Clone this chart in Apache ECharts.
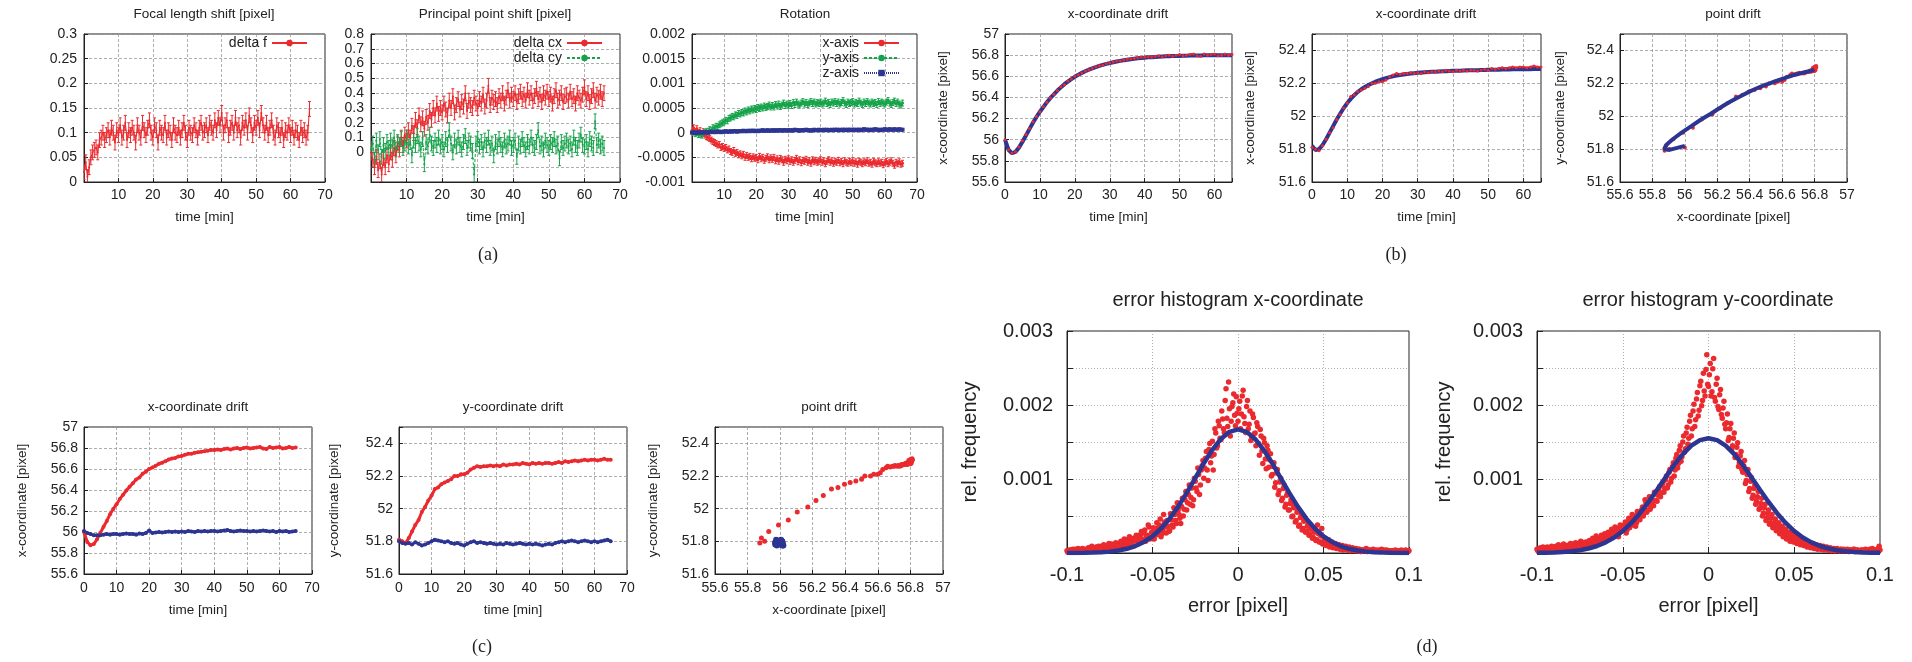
<!DOCTYPE html>
<html>
<head>
<meta charset="utf-8">
<title>camera drift</title>
<script src="https://cdn.jsdelivr.net/npm/echarts@6/dist/echarts.min.js"></script>
<style>html,body{margin:0;padding:0;background:#fff;}</style>
</head>
<body>
<div id="main" style="width:1912px;height:662px;"></div>
<script>
// ---------- (a) calibration parameters, one sample every 0.5 min ----------
var tStepA = 0.5;
var deltaF = [
  0.02,0.04,0.01,0.03,0.05,0.06,0.065,0.07,0.06,0.085,
  0.09,0.1,0.085,0.095,0.105,0.09,0.11,0.1,0.08,0.105,
  0.095,0.115,0.09,0.1,0.12,0.085,0.105,0.095,0.11,0.1,
  0.08,0.115,0.1,0.09,0.12,0.105,0.095,0.11,0.125,0.1,
  0.09,0.115,0.105,0.08,0.11,0.1,0.095,0.12,0.09,0.105,
  0.1,0.085,0.115,0.1,0.095,0.11,0.09,0.105,0.12,0.1,
  0.085,0.11,0.1,0.095,0.115,0.105,0.09,0.11,0.12,0.1,
  0.105,0.115,0.095,0.12,0.11,0.1,0.125,0.105,0.13,0.115,
  0.14,0.1,0.115,0.125,0.095,0.11,0.12,0.1,0.13,0.105,
  0.115,0.09,0.12,0.11,0.125,0.1,0.135,0.115,0.095,0.12,
  0.11,0.13,0.105,0.14,0.115,0.1,0.12,0.095,0.11,0.125,
  0.1,0.09,0.115,0.105,0.095,0.11,0.085,0.105,0.1,0.115,
  0.095,0.11,0.09,0.105,0.1,0.085,0.11,0.095,0.105,0.09,
  0.1,0.148];
var deltaCx = [
  0,-0.05,-0.1,-0.03,-0.12,-0.06,-0.15,-0.04,-0.1,-0.02,
  -0.08,0,-0.05,0.03,-0.02,0.06,0.02,0.1,0.05,0.12,
  0.08,0.15,0.1,0.18,0.13,0.22,0.17,0.25,0.19,0.23,
  0.16,0.24,0.2,0.28,0.22,0.3,0.25,0.33,0.26,0.3,
  0.27,0.33,0.29,0.25,0.35,0.3,0.38,0.27,0.32,0.36,
  0.29,0.34,0.31,0.4,0.28,0.35,0.32,0.3,0.37,0.33,
  0.3,0.36,0.33,0.39,0.31,0.35,0.45,0.32,0.37,0.34,
  0.36,0.32,0.38,0.35,0.4,0.33,0.37,0.42,0.35,0.39,
  0.36,0.4,0.34,0.38,0.41,0.36,0.39,0.35,0.42,0.37,
  0.4,0.35,0.38,0.43,0.36,0.39,0.34,0.4,0.37,0.41,
  0.36,0.39,0.33,0.38,0.42,0.35,0.37,0.4,0.34,0.38,
  0.39,0.35,0.41,0.36,0.38,0.33,0.4,0.37,0.35,0.39,
  0.44,0.36,0.4,0.34,0.38,0.42,0.35,0.39,0.37,0.41,
  0.36,0.4];
var deltaCy = [
  0.02,0.06,-0.05,0.08,0,0.09,-0.03,0.05,0.01,0.07,
  0.03,0.08,0.04,0.1,0.02,0.07,0.05,0.09,0.03,0.06,
  0.1,0.04,0.07,-0.02,0.08,0.05,0.11,0.06,0.02,0.09,
  -0.08,0.07,0.04,0.12,0.06,0.03,0.08,0.05,0.1,0.04,
  0.07,0.02,0.09,0.05,0.15,0.06,0,0.08,0.04,0.1,
  0.05,0.02,0.07,0.11,0.03,0.08,0.06,0.01,-0.15,0.06,
  0.09,0.04,0.07,0.02,0.08,0.05,0.1,0.03,0.06,-0.02,
  0.07,0.04,0.09,0.05,0.02,0.08,0.04,0.06,0.1,0.03,
  0.05,0.08,-0.03,0.06,0.04,0.09,0.05,0.02,0.07,0.04,
  0.1,0.05,0.03,0.07,0.15,0.04,0.06,0.02,0.08,0.05,
  0.03,0.07,0.05,0.09,0.04,0.06,-0.04,0.07,0.03,0.06,
  0.08,0.04,0.06,0.02,0.1,0.05,0.03,0.08,0.12,0.05,
  0.04,0.07,0.02,0.09,0.06,0.03,0.21,0.05,0.08,0.04,
  0.06,0.03];
var rotX = [
  0.00005,0.0001,0.00002,0.00008,0,0.00004,-0.00003,0.00002,-0.00005,-0.00008,
  -0.0001,-0.00012,-0.00015,-0.00018,-0.0002,-0.00022,-0.00025,-0.00024,-0.0003,-0.00028,
  -0.00032,-0.0003,-0.00035,-0.00033,-0.00038,-0.0004,-0.00036,-0.00042,-0.0004,-0.00045,
  -0.00043,-0.00047,-0.00044,-0.0005,-0.00046,-0.0005,-0.00048,-0.00053,-0.00049,-0.00052,
  -0.0005,-0.00055,-0.00048,-0.00053,-0.0005,-0.00056,-0.00052,-0.00049,-0.00055,-0.00051,
  -0.00054,-0.0005,-0.00057,-0.00053,-0.00058,-0.00052,-0.00055,-0.0006,-0.00054,-0.00057,
  -0.00053,-0.00058,-0.00055,-0.0006,-0.00056,-0.00052,-0.00059,-0.00055,-0.00061,-0.00056,
  -0.00058,-0.00054,-0.0006,-0.00057,-0.00062,-0.00055,-0.00059,-0.00056,-0.0006,-0.00058,
  -0.00055,-0.0006,-0.00057,-0.00063,-0.00058,-0.00055,-0.0006,-0.00057,-0.00062,-0.00058,
  -0.0006,-0.00056,-0.00061,-0.00058,-0.00063,-0.00057,-0.0006,-0.00062,-0.00058,-0.00061,
  -0.00057,-0.00062,-0.00059,-0.00064,-0.00058,-0.0006,-0.00063,-0.00059,-0.00061,-0.00057,
  -0.00062,-0.0006,-0.00064,-0.00058,-0.00061,-0.00063,-0.00059,-0.00062,-0.0006,-0.00065,
  -0.00061,-0.00058,-0.00063,-0.0006,-0.00057,-0.00062,-0.00066,-0.0006,-0.00063,-0.00059,
  -0.00064,-0.00062];
var rotY = [
  0,0.00002,-0.00002,0,-0.00004,-0.00003,-0.00005,-0.00002,0,0.00002,
  0.00003,0.00006,0.00005,0.0001,0.00009,0.00013,0.00012,0.00016,0.00018,0.0002,
  0.00022,0.00025,0.00024,0.00029,0.0003,0.00033,0.00032,0.00036,0.00035,0.00039,
  0.00038,0.00041,0.0004,0.00044,0.00042,0.00046,0.00044,0.00048,0.00046,0.00049,
  0.00047,0.00051,0.00049,0.00052,0.0005,0.00054,0.00051,0.00053,0.00056,0.00052,
  0.00055,0.00052,0.00057,0.00054,0.00058,0.00053,0.00056,0.0006,0.00055,0.00058,
  0.00056,0.00059,0.00055,0.00061,0.00057,0.00062,0.00058,0.00056,0.0006,0.00063,
  0.00058,0.00061,0.00057,0.0006,0.00063,0.00059,0.00062,0.00058,0.00061,0.00059,
  0.00062,0.00058,0.0006,0.00064,0.00059,0.00061,0.00057,0.00062,0.0006,0.00063,
  0.00059,0.00062,0.00058,0.00061,0.00065,0.0006,0.00057,0.00062,0.00059,0.00061,
  0.00063,0.00058,0.00061,0.00059,0.00064,0.0006,0.00057,0.00062,0.00059,0.00063,
  0.0006,0.00058,0.00062,0.00059,0.00061,0.00057,0.00063,0.00059,0.00062,0.0006,
  0.00058,0.00062,0.00065,0.0006,0.00057,0.00061,0.00064,0.00059,0.00062,0.00058,
  0.00056,0.0006];
var rotZ = [
  0,0.00001,-0.00001,0,0.00001,0,0.00001,0,0.00001,0.00001,
  0,0.00001,0.00002,0.00001,0.00002,0.00001,0.00002,0.00002,0.00001,0.00002,
  0.00002,0.00003,0.00002,0.00002,0.00003,0.00002,0.00003,0.00003,0.00002,0.00003,
  0.00003,0.00003,0.00004,0.00003,0.00003,0.00004,0.00003,0.00004,0.00004,0.00003,
  0.00004,0.00003,0.00004,0.00004,0.00005,0.00004,0.00004,0.00005,0.00004,0.00004,
  0.00005,0.00004,0.00005,0.00004,0.00005,0.00005,0.00004,0.00005,0.00005,0.00004,
  0.00005,0.00005,0.00004,0.00005,0.00006,0.00005,0.00005,0.00004,0.00005,0.00005,
  0.00005,0.00006,0.00005,0.00005,0.00004,0.00005,0.00006,0.00005,0.00005,0.00006,
  0.00005,0.00005,0.00006,0.00005,0.00006,0.00005,0.00005,0.00006,0.00005,0.00006,
  0.00006,0.00005,0.00006,0.00005,0.00006,0.00006,0.00005,0.00006,0.00006,0.00005,
  0.00006,0.00006,0.00005,0.00006,0.00006,0.00005,0.00006,0.00007,0.00006,0.00006,
  0.00006,0.00005,0.00006,0.00006,0.00007,0.00006,0.00006,0.00005,0.00006,0.00006,
  0.00007,0.00006,0.00006,0.00007,0.00006,0.00006,0.00007,0.00006,0.00006,0.00007,
  0.00006,0.00006];
// error bar half widths
var errF = 0.015, errC = 0.05, errRot = 0.00006, errZ = 0.00002;

// ---------- (b)/(c) point position drift, one sample per minute ----------
var tStepD = 1;
var xMeas = [
  56.0,55.905,55.875,55.885,55.93,55.99,56.05,56.105,56.17,56.22,
  56.265,56.315,56.355,56.395,56.43,56.465,56.5,56.52,56.555,56.575,
  56.6,56.615,56.63,56.65,56.66,56.675,56.69,56.7,56.705,56.72,
  56.725,56.735,56.745,56.745,56.755,56.76,56.765,56.77,56.775,56.78,
  56.78,56.785,56.78,56.79,56.795,56.785,56.795,56.8,56.79,56.8,
  56.805,56.795,56.8,56.805,56.81,56.795,56.79,56.81,56.8,56.805,
  56.81,56.795,56.8,56.81,56.8,56.805];
var xFit = [
  56.0,55.905,55.872,55.885,55.925,55.98,56.04,56.1,56.16,56.215,
  56.265,56.31,56.355,56.395,56.43,56.465,56.495,56.525,56.55,56.573,
  56.595,56.615,56.632,56.648,56.662,56.675,56.687,56.698,56.708,56.717,
  56.725,56.733,56.74,56.746,56.752,56.757,56.762,56.766,56.77,56.773,
  56.776,56.779,56.781,56.783,56.785,56.787,56.789,56.79,56.791,56.792,
  56.793,56.794,56.795,56.796,56.796,56.797,56.797,56.798,56.798,56.798,
  56.799,56.799,56.799,56.8,56.8,56.8];
var yMeas = [
  51.81,51.8,51.79,51.82,51.86,51.9,51.93,51.98,52.01,52.05,
  52.08,52.12,52.13,52.15,52.16,52.17,52.18,52.2,52.2,52.21,
  52.21,52.22,52.24,52.25,52.26,52.255,52.26,52.26,52.265,52.26,
  52.265,52.26,52.27,52.265,52.27,52.27,52.275,52.27,52.28,52.275,
  52.27,52.28,52.275,52.28,52.275,52.28,52.28,52.275,52.28,52.285,
  52.28,52.29,52.285,52.29,52.295,52.29,52.295,52.3,52.295,52.3,
  52.3,52.295,52.3,52.305,52.3,52.3];
var yFit = [
  51.82,51.795,51.8,51.825,51.86,51.9,51.94,51.98,52.015,52.05,
  52.08,52.105,52.128,52.148,52.164,52.178,52.19,52.2,52.21,52.218,
  52.225,52.232,52.238,52.243,52.247,52.251,52.254,52.257,52.26,52.262,
  52.264,52.266,52.268,52.269,52.27,52.271,52.272,52.273,52.274,52.275,
  52.276,52.277,52.277,52.278,52.279,52.279,52.28,52.28,52.281,52.281,
  52.282,52.282,52.283,52.283,52.284,52.284,52.284,52.285,52.285,52.285,
  52.286,52.286,52.286,52.287,52.287,52.287];
var xRef = [
  56.01,55.99,55.98,55.97,55.97,55.97,55.975,55.98,55.975,55.98,
  55.98,55.975,55.98,55.985,55.98,55.98,55.975,55.985,55.98,55.99,
  56.015,55.99,55.995,56.0,55.995,56.0,56.005,56.0,56.005,56.0,
  56.005,56.0,56.01,56.005,56.0,56.01,56.005,56.01,56.005,56.01,
  56.01,56.005,56.01,56.015,56.02,56.01,56.005,56.01,56.015,56.01,
  56.01,56.005,56.01,56.005,56.01,56.015,56.01,56.005,56.01,56.0,
  56.01,56.005,56.01,56.0,56.005,56.01];
var yRef = [
  51.8,51.79,51.785,51.79,51.78,51.795,51.785,51.775,51.78,51.79,
  51.8,51.81,51.805,51.8,51.795,51.8,51.79,51.785,51.79,51.78,
  51.775,51.785,51.795,51.8,51.79,51.795,51.79,51.785,51.79,51.785,
  51.78,51.785,51.78,51.79,51.785,51.78,51.785,51.79,51.785,51.78,
  51.785,51.78,51.785,51.78,51.775,51.78,51.785,51.78,51.79,51.795,
  51.8,51.795,51.8,51.805,51.8,51.795,51.8,51.805,51.8,51.795,
  51.8,51.795,51.8,51.805,51.81,51.8];

// ---------- (d) error histograms, bins every 0.001 px ----------
var histStart = -0.1, histStart2 = -0.0995, histStep = 0.001, fitStep = 0.005;
var histX = [
  0.00003,0.00002,0.00004,0.00001,0.00003,0.00005,0.00002,0.00004,0.00003,0.00006,
  0.00004,0.00002,0.00005,0.00007,0.00003,0.00006,0.00004,0.00008,0.00005,0.00007,
  0.00009,0.00005,0.00008,0.00006,0.0001,0.00007,0.00012,0.00008,0.00011,0.00006,
  0.00013,0.0001,0.00015,0.00009,0.00014,0.00018,0.00011,0.00016,0.00013,0.0002,
  0.00017,0.00022,0.00014,0.00025,0.00019,0.00027,0.00016,0.00024,0.00035,0.00021,
  0.00028,0.00019,0.00033,0.00025,0.00038,0.00022,0.0003,0.00042,0.00027,0.00036,
  0.0003,0.00045,0.00035,0.00052,0.0004,0.00058,0.00047,0.00063,0.0005,0.00072,
  0.00058,0.00079,0.00066,0.00088,0.00072,0.00097,0.00083,0.00106,0.00092,0.00118,
  0.00101,0.00128,0.00112,0.0014,0.00122,0.00151,0.00133,0.00162,0.00145,0.00172,
  0.00153,0.00181,0.00163,0.00222,0.00171,0.00195,0.00178,0.00203,0.00186,0.00211,
  0.00178,0.00205,0.00188,0.0022,0.00175,0.00198,0.00168,0.00192,0.00157,0.00183,
  0.00162,0.00176,0.00148,0.00167,0.00138,0.00155,0.00127,0.00145,0.00116,0.00134,
  0.00106,0.00122,0.00095,0.00113,0.00084,0.00101,0.00074,0.00092,0.00066,0.00081,
  0.00058,0.00072,0.0005,0.00066,0.00044,0.00058,0.00038,0.00052,0.00033,0.00045,
  0.00029,0.0004,0.00025,0.00034,0.00021,0.0003,0.00018,0.00026,0.00015,0.00033,
  0.00013,0.0002,0.00011,0.00018,0.00009,0.00015,0.00008,0.00013,0.00007,0.00011,
  0.00006,0.0001,0.00005,0.00009,0.00004,0.00008,0.00004,0.00007,0.00003,0.00006,
  0.00003,0.00005,0.00002,0.00004,0.00003,0.00006,0.00002,0.00004,0.00003,0.00005,
  0.00002,0.00004,0.00003,0.00002,0.00005,0.00003,0.00002,0.00004,0.00003,0.00002,
  0.00003,0.00002,0.00004,0.00002,0.00003,0.00001,0.00003,0.00002,0.00004,0.00003,
  0.00003];
// the same histogram, bins shifted by half a step
var histX2 = [
  0.00001,0.00004,0.00002,0.00005,0.00003,0.00002,0.00006,0.00003,0.00004,0.00002,
  0.00005,0.00003,0.00007,0.00004,0.00009,0.00005,0.00003,0.00006,0.00009,0.00004,
  0.00006,0.00011,0.00004,0.00009,0.00013,0.00006,0.0001,0.00005,0.00014,0.00009,
  0.00008,0.00016,0.00012,0.00019,0.0001,0.00015,0.00022,0.00014,0.00009,0.00018,
  0.00024,0.00012,0.0002,0.00029,0.00016,0.00031,0.00022,0.00038,0.00019,0.00028,
  0.00034,0.00024,0.00041,0.00031,0.00046,0.00026,0.00052,0.00035,0.00044,0.00029,
  0.00053,0.00038,0.00061,0.00044,0.00068,0.00052,0.0004,0.00074,0.00059,0.00083,
  0.00068,0.00092,0.00075,0.00064,0.00101,0.00088,0.00115,0.00079,0.00112,0.00125,
  0.00115,0.00137,0.00098,0.00148,0.00131,0.00112,0.00168,0.00142,0.00178,0.00155,
  0.00192,0.00168,0.00206,0.00182,0.00231,0.00158,0.00198,0.00215,0.00172,0.00189,
  0.00195,0.00168,0.00212,0.00184,0.00163,0.00206,0.00174,0.00152,0.00188,0.00161,
  0.00145,0.00171,0.00132,0.00158,0.00121,0.00149,0.00114,0.00139,0.00126,0.00104,
  0.00117,0.00089,0.00108,0.00079,0.00096,0.00071,0.00087,0.00062,0.00078,0.00058,
  0.00067,0.00049,0.00061,0.00042,0.00055,0.00036,0.00048,0.00031,0.00043,0.00028,
  0.00036,0.00024,0.00032,0.0002,0.00028,0.00017,0.00038,0.00015,0.00023,0.00012,
  0.00018,0.0001,0.00016,0.00008,0.00014,0.00007,0.00012,0.00006,0.00011,0.00005,
  0.00009,0.00004,0.00008,0.00005,0.00007,0.00003,0.00006,0.00004,0.00005,0.00003,
  0.00005,0.00002,0.00004,0.00003,0.00005,0.00002,0.00004,0.00003,0.00002,0.00004,
  0.00003,0.00002,0.00004,0.00002,0.00003,0.00004,0.00002,0.00003,0.00001,0.00003,
  0.00002,0.00003,0.00001,0.00003,0.00002,0.00004,0.00002,0.00001,0.00003,0.00002];
var histY = [
  0.00005,0.00003,0.00007,0.00004,0.00006,0.00003,0.00008,0.00005,0.00004,0.00007,
  0.00006,0.00009,0.00005,0.00008,0.00006,0.0001,0.00007,0.00009,0.00006,0.00011,
  0.00008,0.00012,0.00009,0.00007,0.00013,0.0001,0.00015,0.00009,0.00012,0.0001,
  0.00014,0.00011,0.00017,0.00012,0.00016,0.0002,0.00013,0.00018,0.00015,0.00021,
  0.00017,0.00024,0.0002,0.00027,0.00022,0.0003,0.00024,0.00033,0.00027,0.00036,
  0.0003,0.00038,0.00027,0.00042,0.00034,0.00046,0.00038,0.0005,0.00041,0.00055,
  0.00045,0.00058,0.0005,0.00072,0.00055,0.00066,0.00059,0.00073,0.00064,0.0008,
  0.0007,0.00085,0.00076,0.00092,0.00082,0.00099,0.00088,0.00109,0.00096,0.00117,
  0.00104,0.00128,0.00115,0.00139,0.00124,0.0015,0.00136,0.00162,0.00147,0.00178,
  0.00158,0.00192,0.00171,0.00208,0.00185,0.00226,0.00199,0.00243,0.00212,0.00268,
  0.00225,0.00256,0.00218,0.00263,0.00205,0.00236,0.00194,0.00221,0.00182,0.00205,
  0.00168,0.00188,0.00156,0.00175,0.00145,0.00162,0.00133,0.00149,0.00122,0.00137,
  0.00109,0.00125,0.00098,0.00113,0.00087,0.00102,0.00078,0.00092,0.0007,0.00083,
  0.00061,0.00074,0.00054,0.00066,0.00047,0.00058,0.00041,0.00052,0.00036,0.00046,
  0.00032,0.00041,0.00028,0.00036,0.00024,0.00032,0.00021,0.00028,0.00018,0.00026,
  0.00016,0.00023,0.00014,0.0002,0.00012,0.00018,0.0001,0.00016,0.00009,0.00014,
  0.00008,0.00013,0.00007,0.00011,0.00006,0.0001,0.00005,0.00009,0.00005,0.00008,
  0.00004,0.00007,0.00004,0.00006,0.00003,0.00006,0.00003,0.00005,0.00003,0.00005,
  0.00003,0.00005,0.00002,0.00004,0.00003,0.00005,0.00002,0.00004,0.00003,0.00004,
  0.00002,0.00004,0.00003,0.00002,0.00005,0.00003,0.00002,0.00004,0.00003,0.00006,
  0.00004];
var histY2 = [
  0.00003,0.00006,0.00004,0.00008,0.00005,0.00007,0.00004,0.00006,0.00009,0.00005,
  0.00008,0.00005,0.00011,0.00007,0.00009,0.00012,0.00006,0.0001,0.00008,0.00013,
  0.0001,0.00007,0.00014,0.00011,0.00009,0.00016,0.00012,0.00008,0.00015,0.00013,
  0.00017,0.00012,0.0002,0.00015,0.00023,0.00014,0.00019,0.00024,0.00016,0.00026,
  0.0002,0.00028,0.00023,0.00032,0.00025,0.00035,0.00028,0.00022,0.00038,0.0003,
  0.00035,0.00042,0.00031,0.00047,0.00038,0.00052,0.00043,0.00036,0.00056,0.00048,
  0.00052,0.00062,0.00055,0.00068,0.00058,0.00076,0.00063,0.00069,0.00082,0.00071,
  0.00078,0.0009,0.00081,0.00096,0.00087,0.00104,0.00092,0.00113,0.00101,0.00122,
  0.00112,0.00133,0.00121,0.00145,0.0013,0.00158,0.00141,0.0017,0.00155,0.00186,
  0.00168,0.00201,0.0018,0.00217,0.00193,0.00232,0.00206,0.00219,0.00248,0.00228,
  0.00241,0.00212,0.00249,0.0021,0.00228,0.00198,0.00214,0.00187,0.00196,0.00174,
  0.00176,0.00152,0.00168,0.0014,0.00155,0.00129,0.00143,0.00117,0.00131,0.00113,
  0.00118,0.00094,0.00106,0.00083,0.00097,0.00074,0.00087,0.00066,0.00076,0.00059,
  0.00067,0.0005,0.00061,0.00044,0.00053,0.00039,0.00047,0.00034,0.00041,0.0003,
  0.00036,0.00026,0.00031,0.00022,0.00029,0.00019,0.00025,0.00016,0.00022,0.00015,
  0.0002,0.00013,0.00017,0.00011,0.00015,0.0001,0.00013,0.00008,0.00012,0.00007,
  0.0001,0.00006,0.00009,0.00005,0.00008,0.00005,0.00007,0.00004,0.00007,0.00004,
  0.00006,0.00003,0.00005,0.00003,0.00005,0.00004,0.00003,0.00005,0.00003,0.00004,
  0.00004,0.00002,0.00004,0.00003,0.00005,0.00002,0.00004,0.00003,0.00002,0.00004,
  0.00003,0.00005,0.00002,0.00004,0.00003,0.00006,0.00002,0.00004,0.00003,0.00009];
var fitX = [
  0.0000005,0.0000012,0.0000026,0.0000052,0.00001,0.0000186,0.000033,0.0000568,0.0000937,0.000149,
  0.000226,0.000331,0.000464,0.000627,0.000813,0.001013,0.001213,0.001395,0.001542,0.001637,
  0.00167,
  0.001637,0.001542,0.001395,0.001213,0.001013,0.000813,0.000627,0.000464,0.000331,0.000226,
  0.000149,0.0000937,0.0000568,0.000033,0.0000186,0.00001,0.0000052,0.0000026,0.0000012,0.0000005];
var fitY = [
  0.0000021,0.000004,0.0000073,0.000013,0.0000225,0.0000376,0.0000607,0.0000949,0.000144,0.00021,
  0.000297,0.000406,0.000538,0.00069,0.000855,0.001025,0.00119,0.001336,0.001451,0.001525,
  0.00155,
  0.001525,0.001451,0.001336,0.00119,0.001025,0.000855,0.00069,0.000538,0.000406,0.000297,
  0.00021,0.000144,0.0000949,0.0000607,0.0000376,0.0000225,0.000013,0.0000073,0.000004,0.0000021];

// ---------- helpers ----------
var RED = '#ea2a2e', GREEN = '#15a34a', BLUE = '#2d3592', INK = '#222';
var FONT = '"Liberation Sans", Arial, sans-serif';

function seq(vals, start, step) {
  return vals.map(function (v, i) { return [+(start + i * step).toFixed(4), v]; });
}
function withErr(vals, step, e) {
  return vals.map(function (v, i) { return [+(i * step).toFixed(4), v, e]; });
}
function zip(xs, ys) {
  return xs.map(function (x, i) { return [x, ys[i]]; });
}
function near(a, b) { return Math.abs(a - b) < 1e-9; }

var main = document.getElementById('main');
var myChart = echarts.init(main);

// grid boxes (pixels)
var boxes = [
  [84, 34, 241, 148], [371, 34, 249, 148], [692, 34, 225, 148],
  [1005, 34, 227, 148], [1312, 34, 229, 148], [1620, 34, 227, 148],
  [84, 427, 228, 147], [399, 427, 228, 147], [715, 427, 228, 147],
  [1067, 331, 342, 222], [1537, 331, 343, 222]
];
var grids = boxes.map(function (b) {
  return { left: b[0], top: b[1], width: b[2], height: b[3], show: true,
    borderColor: INK, borderWidth: 1, containLabel: false, outerBoundsMode: 'none' };
});

function axis(idx, o, isY, big) {
  var fs = big ? 20 : 14;
  return {
    gridIndex: idx, type: 'value', min: o.min, max: o.max, interval: o.interval,
    name: o.name || '', nameLocation: 'middle', nameGap: o.gap,
    nameTextStyle: { fontSize: big ? 20 : 13.5, color: INK, fontFamily: FONT },
    axisLine: { show: true, onZero: false, lineStyle: { color: INK, width: 1 } },
    axisTick: { show: true, inside: true, length: big ? 6 : 4, lineStyle: { color: INK } },
    axisLabel: { fontSize: fs, color: INK, fontFamily: FONT, margin: o.margin,
      formatter: o.fmt || function (v) { return String(+v.toFixed(6)); } },
    splitLine: { show: true, lineStyle: { color: '#9a9a9a', width: 0.8, type: big ? [1, 2] : [3, 2] } }
  };
}

var noZero = function (v) { return v === 0 ? '' : String(v); };
var tens = function (v) { return (v % 10 === 0) ? String(v) : ''; };
var to524 = function (v) { return near(v, 52.5) ? '' : String(+v.toFixed(2)); };
var histLab = function (v) {
  var k = Math.round(v * 1000);
  return (k > 0 && near(v * 1000, k)) ? String(k / 1000) : '';
};

var timeName = 'time [min]';
var xAxes = [
  axis(0, { min: 0, max: 70, interval: 10, name: timeName, gap: 28, margin: 6, fmt: noZero }),
  axis(1, { min: 0, max: 70, interval: 10, name: timeName, gap: 28, margin: 6, fmt: noZero }),
  axis(2, { min: 0, max: 70, interval: 10, name: timeName, gap: 28, margin: 6, fmt: noZero }),
  axis(3, { min: 0, max: 65, interval: 10, name: timeName, gap: 28, margin: 6, fmt: tens }),
  axis(4, { min: 0, max: 65, interval: 10, name: timeName, gap: 28, margin: 6, fmt: tens }),
  axis(5, { min: 55.6, max: 57, interval: 0.2, name: 'x-coordinate [pixel]', gap: 28, margin: 6 }),
  axis(6, { min: 0, max: 70, interval: 10, name: timeName, gap: 29, margin: 7 }),
  axis(7, { min: 0, max: 70, interval: 10, name: timeName, gap: 29, margin: 7 }),
  axis(8, { min: 55.6, max: 57, interval: 0.2, name: 'x-coordinate [pixel]', gap: 29, margin: 7 }),
  axis(9, { min: -0.1, max: 0.1, interval: 0.05, name: 'error [pixel]', gap: 43, margin: 12 }, false, true),
  axis(10, { min: -0.1, max: 0.1, interval: 0.05, name: 'error [pixel]', gap: 43, margin: 12 }, false, true)
];
var yAxes = [
  axis(0, { min: 0, max: 0.3, interval: 0.05, margin: 7 }, true),
  axis(1, { min: -0.2, max: 0.8, interval: 0.1, margin: 7,
    fmt: function (v) { return v < -1e-9 ? '' : String(+v.toFixed(2)); } }, true),
  axis(2, { min: -0.001, max: 0.002, interval: 0.0005, margin: 7 }, true),
  axis(3, { min: 55.6, max: 57, interval: 0.2, name: 'x-coordinate [pixel]', gap: 55, margin: 6 }, true),
  axis(4, { min: 51.6, max: 52.5, interval: 0.2, name: 'x-coordinate [pixel]', gap: 55, margin: 6, fmt: to524 }, true),
  axis(5, { min: 51.6, max: 52.5, interval: 0.2, name: 'y-coordinate [pixel]', gap: 53, margin: 6, fmt: to524 }, true),
  axis(6, { min: 55.6, max: 57, interval: 0.2, name: 'x-coordinate [pixel]', gap: 55, margin: 6 }, true),
  axis(7, { min: 51.6, max: 52.5, interval: 0.2, name: 'y-coordinate [pixel]', gap: 58, margin: 6, fmt: to524 }, true),
  axis(8, { min: 51.6, max: 52.5, interval: 0.2, name: 'y-coordinate [pixel]', gap: 55, margin: 6, fmt: to524 }, true),
  axis(9, { min: 0, max: 0.003, interval: 0.0005, name: 'rel. frequency', gap: 87, margin: 14, fmt: histLab }, true, true),
  axis(10, { min: 0, max: 0.003, interval: 0.0005, name: 'rel. frequency', gap: 83, margin: 14, fmt: histLab }, true, true)
];

function errBars(idx, data, color) {
  return {
    type: 'custom', xAxisIndex: idx, yAxisIndex: idx, clip: true, silent: true,
    data: data, encode: { x: 0, y: 1 },
    renderItem: function (params, api) {
      var x = api.value(0), y = api.value(1), e = api.value(2);
      var p1 = api.coord([x, y + e]), p2 = api.coord([x, y - e]);
      var st = { stroke: color, lineWidth: 1 };
      return { type: 'group', children: [
        { type: 'line', shape: { x1: p1[0], y1: p1[1], x2: p2[0], y2: p2[1] }, style: st },
        { type: 'line', shape: { x1: p1[0] - 1.5, y1: p1[1], x2: p1[0] + 1.5, y2: p1[1] }, style: st },
        { type: 'line', shape: { x1: p2[0] - 1.5, y1: p2[1], x2: p2[0] + 1.5, y2: p2[1] }, style: st }
      ] };
    }
  };
}
function lineS(idx, name, data, color, width, sym, symSize, dash) {
  return {
    type: 'line', name: name, xAxisIndex: idx, yAxisIndex: idx, data: data,
    showSymbol: !!sym, symbol: sym || 'none', symbolSize: symSize || 0,
    itemStyle: { color: color }, lineStyle: { color: color, width: width, type: dash || 'solid' },
    silent: true
  };
}
function dots(idx, data, color, size) {
  return { type: 'scatter', xAxisIndex: idx, yAxisIndex: idx, data: data,
    symbol: 'circle', symbolSize: size, itemStyle: { color: color, opacity: 1 }, silent: true };
}

var series = [
  // (a)
  errBars(0, withErr(deltaF, tStepA, errF), RED),
  lineS(0, 'delta f', seq(deltaF, 0, tStepA), RED, 1, 'circle', 2),
  errBars(1, withErr(deltaCx, tStepA, errC), RED),
  lineS(1, 'delta cx', seq(deltaCx, 0, tStepA), RED, 1, 'circle', 2),
  errBars(1, withErr(deltaCy, tStepA, errC), GREEN),
  lineS(1, 'delta cy', seq(deltaCy, 0, tStepA), GREEN, 1, 'circle', 2, [3, 2]),
  errBars(2, withErr(rotX, tStepA, errRot), RED),
  lineS(2, 'x-axis', seq(rotX, 0, tStepA), RED, 1.5, 'circle', 3),
  errBars(2, withErr(rotY, tStepA, errRot), GREEN),
  lineS(2, 'y-axis', seq(rotY, 0, tStepA), GREEN, 1.5, 'circle', 3, [3, 2]),
  errBars(2, withErr(rotZ, tStepA, errZ), BLUE),
  lineS(2, 'z-axis', seq(rotZ, 0, tStepA), BLUE, 2, 'rect', 4, [1, 1]),
  // (b)
  lineS(3, 'x meas', seq(xMeas, 0, tStepD), RED, 2, 'circle', 3),
  lineS(3, 'x fit', seq(xFit, 0, tStepD), BLUE, 4),
  lineS(4, 'y meas', seq(yMeas, 0, tStepD), RED, 2, 'circle', 3),
  lineS(4, 'y fit', seq(yFit, 0, tStepD), BLUE, 4),
  dots(5, zip(xMeas, yMeas), RED, 4),
  lineS(5, 'xy fit', zip(xFit, yFit), BLUE, 4),
  // (c)
  lineS(6, 'x meas c', seq(xMeas, 0, tStepD), RED, 3, 'circle', 4),
  lineS(6, 'x ref', seq(xRef, 0, tStepD), BLUE, 3, 'circle', 4),
  lineS(7, 'y meas c', seq(yMeas, 0, tStepD), RED, 3, 'circle', 4),
  lineS(7, 'y ref', seq(yRef, 0, tStepD), BLUE, 3, 'circle', 4),
  dots(8, zip(xMeas, yMeas), RED, 5),
  dots(8, zip(xRef, yRef), BLUE, 6),
  // (d)
  dots(9, seq(histX, histStart, histStep), RED, 5.5),
  dots(9, seq(histX2, histStart2, histStep), RED, 5.5),
  lineS(9, 'gauss x', seq(fitX, histStart, fitStep), BLUE, 4.5),
  dots(10, seq(histY, histStart, histStep), RED, 5.5),
  dots(10, seq(histY2, histStart2, histStep), RED, 5.5),
  lineS(10, 'gauss y', seq(fitY, histStart, fitStep), BLUE, 4.5)
];

function ttl(text, cx, top, fs) {
  return { text: text, left: cx, top: top, textAlign: 'center', padding: 0,
    textStyle: { fontSize: fs, fontWeight: 'normal', color: INK, fontFamily: FONT } };
}
function leg(names, right) {
  return { data: names, orient: 'vertical', align: 'right', right: right, top: 36, padding: 0,
    itemWidth: 35, itemHeight: 8, itemGap: 1, selectedMode: false,
    textStyle: { fontSize: 14, color: INK, fontFamily: FONT } };
}
function letter(t, x, y) {
  return { type: 'text', style: { text: t, x: x, y: y, textAlign: 'center', textVerticalAlign: 'middle',
    font: '18px "Liberation Serif", "DejaVu Serif", serif', fill: INK } };
}

var option = {
  animation: false,
  backgroundColor: '#fff',
  title: [
    ttl('Focal length shift [pixel]', 204, 7, 13.5),
    ttl('Principal point shift [pixel]', 495, 7, 13.5),
    ttl('Rotation', 805, 7, 13.5),
    ttl('x-coordinate drift', 1118, 7, 13.5),
    ttl('x-coordinate drift', 1426, 7, 13.5),
    ttl('point drift', 1733, 7, 13.5),
    ttl('x-coordinate drift', 198, 400, 13.5),
    ttl('y-coordinate drift', 513, 400, 13.5),
    ttl('point drift', 829, 400, 13.5),
    ttl('error histogram x-coordinate', 1238, 290, 20),
    ttl('error histogram y-coordinate', 1708, 290, 20)
  ],
  legend: [
    leg(['delta f'], 1604),
    leg(['delta cx', 'delta cy'], 1309),
    leg(['x-axis', 'y-axis', 'z-axis'], 1012)
  ],
  grid: grids,
  xAxis: xAxes,
  yAxis: yAxes,
  series: series,
  graphic: [
    letter('(a)', 488, 255), letter('(b)', 1396, 255),
    letter('(c)', 482, 647), letter('(d)', 1427, 647)
  ]
};
myChart.setOption(option);
</script>
</body>
</html>
